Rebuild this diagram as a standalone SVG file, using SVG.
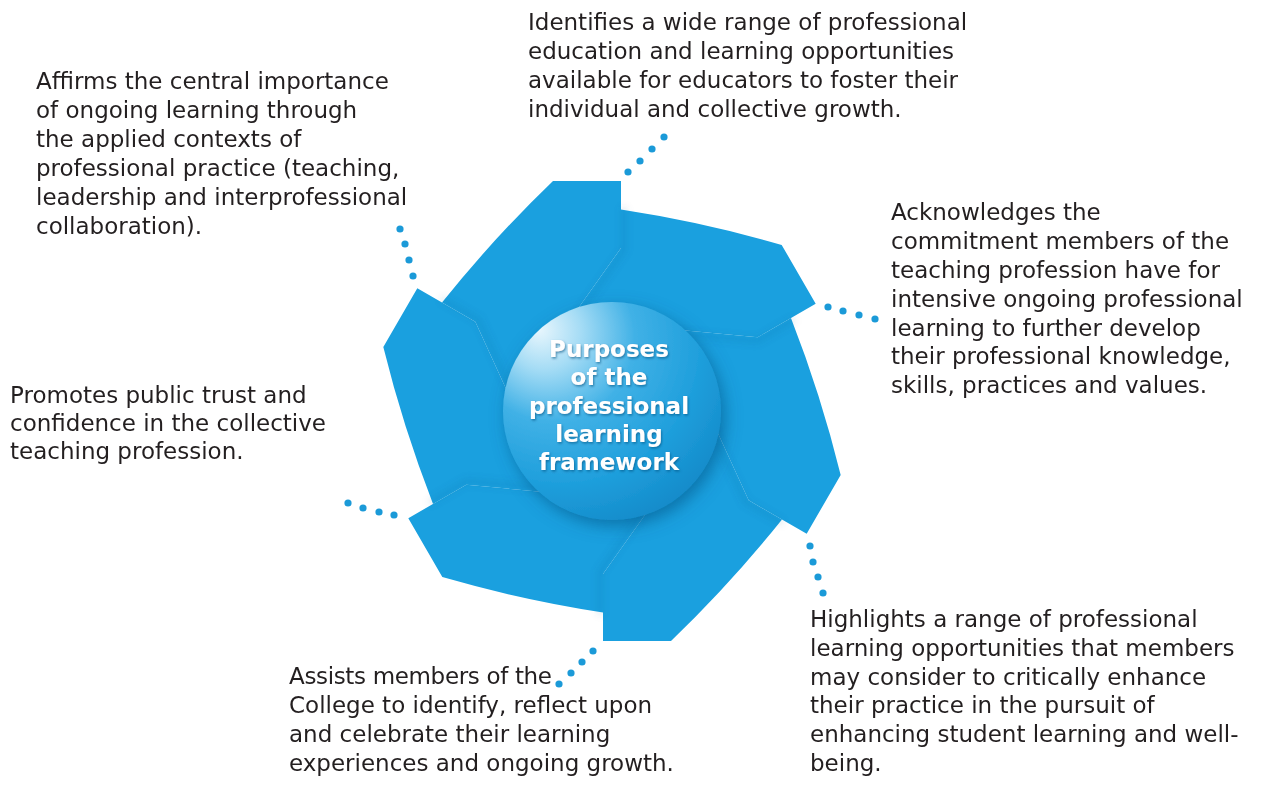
<svg xmlns="http://www.w3.org/2000/svg" width="1264" height="804" viewBox="0 0 1264 804">
  <style>
    .body { font-family: "DejaVu Sans", "Liberation Sans", sans-serif; font-size: 23px; fill: #231f20; }
    .title { font-family: "DejaVu Sans", "Liberation Sans", sans-serif; font-size: 23px; font-weight: bold; fill: #ffffff; text-anchor: middle; }
    .blade { fill: #1aa0df; }
    .seam { fill: none; stroke: #005d94; stroke-opacity: 0.16; stroke-width: 5; }
    .dot { fill: #1b9ad8; }
  </style>
  <defs>
    <path id="bladeShape" d="M -170,-108.5 Q -118.5,-172.8 -59,-230 L 9,-230 L 9,-163 L -50,-80 L -94.3,3.3 L -136.66,-89.29 Z"/>
    <path id="seamShape" d="M 12,-204 L 12,-161 L -46,-79"/>
    <filter id="blur" x="-50%" y="-50%" width="200%" height="200%">
      <feGaussianBlur stdDeviation="3.5"/>
    </filter>
    <filter id="circleShadow" x="-30%" y="-30%" width="160%" height="160%">
      <feDropShadow dx="4" dy="6" stdDeviation="8" flood-color="#004f80" flood-opacity="0.55"/>
    </filter>
    <filter id="textShadow" x="-20%" y="-20%" width="140%" height="140%">
      <feDropShadow dx="1" dy="1.5" stdDeviation="1.2" flood-color="#00507f" flood-opacity="0.6"/>
    </filter>
    <radialGradient id="circleGrad" cx="0.3" cy="0.22" r="0.85" fx="0.16" fy="0.12">
      <stop offset="0" stop-color="#eaf7fd"/>
      <stop offset="0.2" stop-color="#a5dcf5"/>
      <stop offset="0.45" stop-color="#40b1e6"/>
      <stop offset="0.75" stop-color="#1f9fdc"/>
      <stop offset="1" stop-color="#148bca"/>
    </radialGradient>
  </defs>

  <g id="wheel">
    <g id="blade-top" transform="translate(612,411) rotate(0)"><use href="#bladeShape" class="blade"/></g>
    <g id="blade-upper-right" transform="translate(612,411) rotate(60)"><use href="#bladeShape" class="blade"/></g>
    <g id="blade-right" transform="translate(612,411) rotate(120)"><use href="#bladeShape" class="blade"/></g>
    <g id="blade-bottom" transform="translate(612,411) rotate(180)"><use href="#bladeShape" class="blade"/></g>
    <g id="blade-lower-left" transform="translate(612,411) rotate(240)"><use href="#bladeShape" class="blade"/></g>
    <g id="blade-upper-left" transform="translate(612,411) rotate(300)"><use href="#bladeShape" class="blade"/></g>
    <g id="seams" filter="url(#blur)">
      <use href="#seamShape" class="seam" transform="translate(612,411) rotate(0)"/>
      <use href="#seamShape" class="seam" transform="translate(612,411) rotate(60)"/>
      <use href="#seamShape" class="seam" transform="translate(612,411) rotate(120)"/>
      <use href="#seamShape" class="seam" transform="translate(612,411) rotate(180)"/>
      <use href="#seamShape" class="seam" transform="translate(612,411) rotate(240)"/>
      <use href="#seamShape" class="seam" transform="translate(612,411) rotate(300)"/>
    </g>
  </g>

  <g id="center-node">
    <circle cx="612" cy="411" r="109" fill="url(#circleGrad)" filter="url(#circleShadow)"/>
    <g filter="url(#textShadow)">
      <text class="title" x="609" y="357">Purposes</text>
      <text class="title" x="609" y="385">of the</text>
      <text class="title" x="609" y="414">professional</text>
      <text class="title" x="609" y="442">learning</text>
      <text class="title" x="609" y="470">framework</text>
    </g>
  </g>

  <g id="connectors">
    <circle class="dot" cx="664" cy="137" r="3.6"/>
    <circle class="dot" cx="652" cy="149" r="3.6"/>
    <circle class="dot" cx="640" cy="161" r="3.6"/>
    <circle class="dot" cx="628" cy="172" r="3.6"/>

    <circle class="dot" cx="828" cy="307" r="3.6"/>
    <circle class="dot" cx="843" cy="311" r="3.6"/>
    <circle class="dot" cx="859" cy="315" r="3.6"/>
    <circle class="dot" cx="875" cy="319" r="3.6"/>

    <circle class="dot" cx="810" cy="546" r="3.6"/>
    <circle class="dot" cx="813" cy="562" r="3.6"/>
    <circle class="dot" cx="818" cy="577" r="3.6"/>
    <circle class="dot" cx="823" cy="593" r="3.6"/>

    <circle class="dot" cx="593" cy="651" r="3.6"/>
    <circle class="dot" cx="582" cy="662" r="3.6"/>
    <circle class="dot" cx="571" cy="673" r="3.6"/>
    <circle class="dot" cx="559" cy="684" r="3.6"/>

    <circle class="dot" cx="348" cy="503" r="3.6"/>
    <circle class="dot" cx="363" cy="508" r="3.6"/>
    <circle class="dot" cx="379" cy="512" r="3.6"/>
    <circle class="dot" cx="394" cy="515" r="3.6"/>

    <circle class="dot" cx="400" cy="229" r="3.6"/>
    <circle class="dot" cx="405" cy="244" r="3.6"/>
    <circle class="dot" cx="409" cy="260" r="3.6"/>
    <circle class="dot" cx="413" cy="276" r="3.6"/>
  </g>

  <g id="label-top">
    <text class="body" x="528" y="30">Identifies a wide range of professional</text>
    <text class="body" x="528" y="59">education and learning opportunities</text>
    <text class="body" x="528" y="88">available for educators to foster their</text>
    <text class="body" x="528" y="117">individual and collective growth.</text>
  </g>

  <g id="label-upper-left">
    <text class="body" x="36" y="89">Affirms the central importance</text>
    <text class="body" x="36" y="118">of ongoing learning through</text>
    <text class="body" x="36" y="147">the applied contexts of</text>
    <text class="body" x="36" y="176">professional practice (teaching,</text>
    <text class="body" x="36" y="205">leadership and interprofessional</text>
    <text class="body" x="36" y="234">collaboration).</text>
  </g>

  <g id="label-right">
    <text class="body" x="891" y="220">Acknowledges the</text>
    <text class="body" x="891" y="249">commitment members of the</text>
    <text class="body" x="891" y="278">teaching profession have for</text>
    <text class="body" x="891" y="307">intensive ongoing professional</text>
    <text class="body" x="891" y="336">learning to further develop</text>
    <text class="body" x="891" y="364">their professional knowledge,</text>
    <text class="body" x="891" y="393">skills, practices and values.</text>
  </g>

  <g id="label-left">
    <text class="body" x="10" y="403">Promotes public trust and</text>
    <text class="body" x="10" y="431">confidence in the collective</text>
    <text class="body" x="10" y="459">teaching profession.</text>
  </g>

  <g id="label-lower-right">
    <text class="body" x="810" y="627">Highlights a range of professional</text>
    <text class="body" x="810" y="656">learning opportunities that members</text>
    <text class="body" x="810" y="685">may consider to critically enhance</text>
    <text class="body" x="810" y="713">their practice in the pursuit of</text>
    <text class="body" x="810" y="742">enhancing student learning and well-</text>
    <text class="body" x="810" y="771">being.</text>
  </g>

  <g id="label-bottom">
    <text class="body" x="289" y="684" textLength="263" lengthAdjust="spacing">Assists members of the</text>
    <text class="body" x="289" y="713">College to identify, reflect upon</text>
    <text class="body" x="289" y="742">and celebrate their learning</text>
    <text class="body" x="289" y="771">experiences and ongoing growth.</text>
  </g>
</svg>
